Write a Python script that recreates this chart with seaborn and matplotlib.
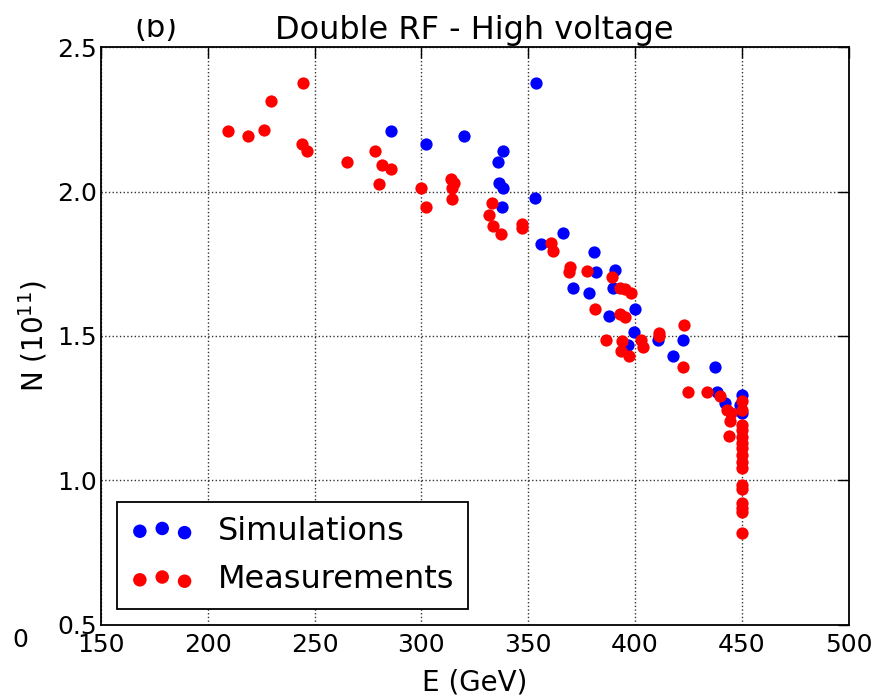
import matplotlib
matplotlib.use("Agg")
import matplotlib.pyplot as plt
from matplotlib.patches import Rectangle
import seaborn as sns
import pandas as pd

sim_E = [286.0, 302.2, 320.1, 338.4, 336.0, 336.5, 338.4, 337.6, 353.5, 353.0,
         356.1, 366.3, 380.7, 381.5, 390.5, 371.0, 378.4, 389.5, 387.9, 400.2,
         399.6, 396.8, 410.8, 417.8, 422.5, 437.6, 438.4, 442.0, 450.0, 449.0, 450.0]
sim_N = [2.209, 2.164, 2.194, 2.141, 2.103, 2.031, 2.014, 1.948, 2.375, 1.977,
         1.818, 1.856, 1.792, 1.723, 1.729, 1.666, 1.650, 1.666, 1.569, 1.592,
         1.512, 1.469, 1.486, 1.431, 1.486, 1.394, 1.305, 1.269, 1.296, 1.261, 1.232]

meas_E = [209.4, 219.0, 226.5, 229.6, 244.8, 244.0, 246.6, 265.0, 278.3, 281.7,
          285.8, 280.0, 300.0, 302.2, 313.9, 315.4, 314.4, 314.4, 332.9, 331.5,
          333.7, 337.3, 347.1, 347.1, 360.7, 361.5, 369.5, 369.2, 377.3, 389.0,
          392.9, 395.2, 398.0, 381.2, 392.9, 395.5, 386.3, 394.1, 393.6, 397.2,
          403.0, 403.8, 411.3, 411.3, 422.5, 422.8, 424.8, 433.7, 439.6, 443.1,
          445.1, 444.3, 444.0,
          450.0, 450.0, 450.0, 450.0, 450.0, 450.0, 450.0, 450.0, 450.0, 450.0,
          450.0, 450.0, 450.0, 450.0, 450.0, 450.0]
meas_N = [2.209, 2.192, 2.215, 2.315, 2.375, 2.164, 2.141, 2.103, 2.141, 2.092,
          2.080, 2.026, 2.014, 1.948, 2.045, 2.031, 2.014, 1.974, 1.962, 1.920,
          1.881, 1.853, 1.887, 1.873, 1.821, 1.795, 1.740, 1.723, 1.726, 1.706,
          1.666, 1.662, 1.648, 1.593, 1.575, 1.567, 1.486, 1.484, 1.448, 1.431,
          1.486, 1.463, 1.509, 1.500, 1.394, 1.538, 1.305, 1.305, 1.292, 1.244,
          1.232, 1.206, 1.155,
          1.275, 1.244, 1.192, 1.174, 1.151, 1.128, 1.111, 1.088, 1.064, 1.042,
          0.984, 0.969, 0.920, 0.903, 0.891, 0.816]

x_ticks = [150, 200, 250, 300, 350, 400, 450, 500]
y_ticks = [0.5, 1.0, 1.5, 2.0, 2.5]

sns.set_style("white")
plt.rcParams['font.family'] = ['DejaVu Sans']
for k in ['text.color', 'axes.labelcolor', 'xtick.color', 'ytick.color']:
    plt.rcParams[k] = 'black'

sim_df = pd.DataFrame({"E": sim_E, "N": sim_N})
meas_df = pd.DataFrame({"E": meas_E, "N": meas_N})

fig = plt.figure(figsize=(8.85, 6.96), dpi=100)
ax = fig.add_axes([0.114, 0.1026, 0.845, 0.8294])

sns.scatterplot(data=sim_df, x="E", y="N", color="#0000ff", s=78,
                linewidth=0, ax=ax, label="Simulations", legend=False, zorder=3)
sns.scatterplot(data=meas_df, x="E", y="N", color="#ff0000", s=78,
                linewidth=0, ax=ax, label="Measurements", legend=False, zorder=4)

ax.set_xlim(150, 500)
ax.set_ylim(0.5, 2.5)
ax.set_xticks(x_ticks)
ax.set_yticks(y_ticks)
ax.set_xticklabels([str(v) for v in x_ticks])
ax.set_yticklabels([f"{v:.1f}" for v in y_ticks])
ax.tick_params(axis='both', which='both', direction='in', top=True, right=True,
               length=8, width=1, labelsize=18, color='black')
ax.tick_params(axis='x', pad=6)
ax.tick_params(axis='y', pad=3)
ax.grid(True, linestyle=':', color='black', linewidth=1.0, alpha=0.8)
for sp in ax.spines.values():
    sp.set_color('black')
    sp.set_linewidth(1.3)

ax.set_xlabel("E (GeV)", fontsize=20, labelpad=8)
ax.set_ylabel(r"N (10$^{11}$)", fontsize=20, labelpad=5)
ax.set_title("Double RF - High voltage", fontsize=23, pad=6)

leg = ax.legend(loc='lower left', scatterpoints=3,
                scatteryoffsets=[0.375, 0.5, 0.3125], fontsize=23,
                frameon=True, fancybox=False, borderaxespad=0.5,
                handlelength=2.0, handletextpad=0.75, borderpad=0.42,
                labelspacing=0.55, markerscale=1.1)
leg.get_frame().set_edgecolor('black')
leg.get_frame().set_linewidth(1.3)
leg.get_frame().set_alpha(1)

fig.text(20 / 885, 1 - 640 / 696, "0", fontsize=18, ha='center', va='center')
fig.text(156 / 885, 1 - 37 / 696, "(b)", fontsize=22, ha='center', va='baseline')
fig.patches.append(Rectangle((125 / 885, 1 - 19 / 696), 60 / 885, 19 / 696,
                             transform=fig.transFigure, facecolor='white',
                             edgecolor='none', zorder=10))

fig.savefig("out.png", dpi=100, facecolor='white')
